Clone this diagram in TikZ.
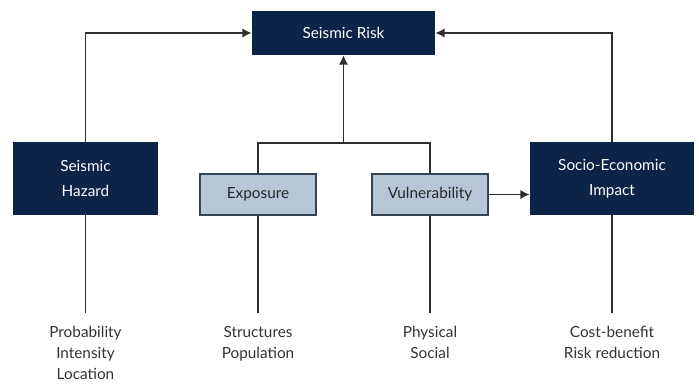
\documentclass[tikz,border=0pt]{standalone}
\usepackage{fontspec}
\setmainfont{Lato}
\usetikzlibrary{arrows.meta, positioning}

\definecolor{navy}{HTML}{0B2447}
\definecolor{paleblue}{HTML}{B8C5D6}
\definecolor{edgegray}{HTML}{33445A}
\definecolor{linegray}{HTML}{2E2E2E}

\begin{document}
\begin{tikzpicture} [
						x=0.75pt, y=-0.75pt,
						darkbox/.style={rectangle, fill=navy, text=white, align=center,
							font=\fontsize{11.5}{18.75}\selectfont},
						lightbox/.style={rectangle, fill=paleblue, draw=edgegray, line width=1pt,
							text=black!85, minimum width=87pt, minimum height=30.75pt,
							font=\fontsize{11.5}{12}\selectfont},
						note/.style={align=center, anchor=north, inner sep=0pt, text=black!80,
							font=\fontsize{11.5}{15.75}\selectfont},
						link/.style={draw=linegray, line width=1.4pt},
						tip/.style={-{Latex[length=7pt, width=7pt]}}
					]

\useasboundingbox (0,0) rectangle (699,383);

\node (risk) [darkbox, minimum width=137.25pt, minimum height=33pt] at (343.5,33) {Seismic Risk};
\node (hazard) [darkbox, minimum width=108.75pt, minimum height=54.75pt] at (85.5,178.5) {Seismic\\Hazard};
\node (exposure) [lightbox] at (258,194.5) {Exposure};
\node (vulnerability) [lightbox] at (430,194.5) {Vulnerability};
\node (impact) [darkbox, minimum width=123pt, minimum height=54.75pt] at (612,178.5) {Socio-Economic\\Impact};

\coordinate (join) at (343.5,143);

\node (hazardnote) [note] at (85.5,326) {Probability\\Intensity\\Location};
\node (exposurenote) [note] at (258,326) {Structures\\Population};
\node (vulnnote) [note] at (430,326) {Physical\\Social};
\node (impactnote) [note] at (612,326) {Cost-benefit\\Risk reduction};

\draw[link, tip] (hazard.north) |- (risk.west);
\draw[link, tip] (impact.north) |- (risk.east);
\draw[link, tip] (join) -- (risk.south);
\draw[link, tip] (vulnerability.east) -- (vulnerability.east -| impact.west);

\draw[link] (exposure.north) |- (join) -| (vulnerability.north);

\draw[link] (hazard.south) -- ([yshift=9.75pt]hazardnote.north);
\draw[link] (exposure.south) -- ([yshift=9.75pt]exposurenote.north);
\draw[link] (vulnerability.south) -- ([yshift=9.75pt]vulnnote.north);
\draw[link] (impact.south) -- ([yshift=9.75pt]impactnote.north);

\end{tikzpicture}
\end{document}
